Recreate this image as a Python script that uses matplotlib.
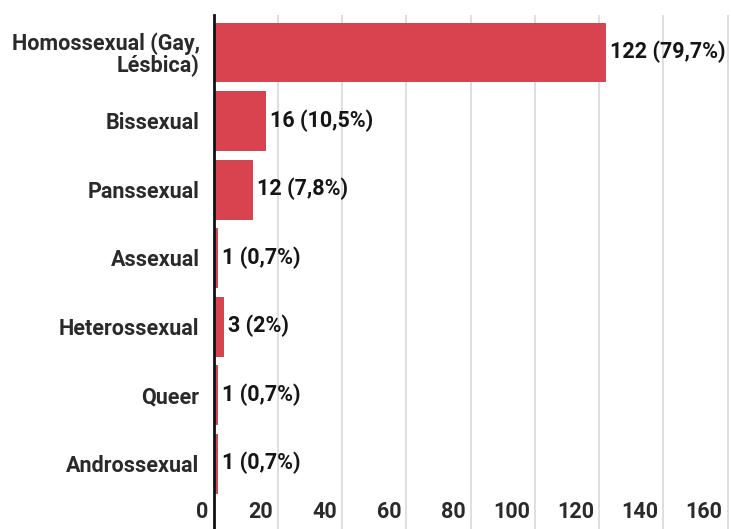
import matplotlib
matplotlib.use("Agg")
import matplotlib.pyplot as plt
import matplotlib.transforms as mtransforms

categories = ["Homossexual (Gay,\nLésbica)", "Bissexual", "Panssexual", "Assexual",
              "Heterossexual", "Queer", "Androssexual"]
values = [122, 16, 12, 1, 3, 1, 1]
value_labels = ["122 (79,7%)", "16 (10,5%)", "12 (7,8%)", "1 (0,7%)", "3 (2%)", "1 (0,7%)", "1 (0,7%)"]
xticks = [0, 20, 40, 60, 80, 100, 120, 140, 160]

plt.rcParams['font.family'] = ['Roboto', 'DejaVu Sans']

W, H = 731, 529
fig = plt.figure(figsize=(W / 100, H / 100), dpi=100)
ax_left = 213.5 / W
ax_top = 1 - 15 / H
ax = fig.add_axes([ax_left, 0, 1 - ax_left, ax_top])

bar_color = "#d9434f"
y = list(range(len(categories)))
ax.barh(y, values, height=0.86, color=bar_color, edgecolor="#c03a45", linewidth=0.6, zorder=3)

xmax = (W - 213.5) / (514 / 160)
ax.set_xlim(0, xmax)
ax.set_ylim(6.96, -0.54)

fs = 15.5
ax.set_xticks(xticks)
ax.set_xticklabels([str(t) for t in xticks], fontsize=fs, fontweight='bold', color="#2a2a2a")
ax.tick_params(axis='x', length=0, pad=-20)
offset = mtransforms.ScaledTranslation(-5 / 100, 0, fig.dpi_scale_trans)
for lbl in ax.get_xticklabels():
    lbl.set_horizontalalignment('right')
    lbl.set_transform(lbl.get_transform() + offset)

ax.set_yticks(y)
ax.set_yticklabels(categories, fontsize=fs, fontweight='bold', color="#2a2a2a",
                   linespacing=1.0)
ax.tick_params(axis='y', length=0, pad=10)

ax.grid(axis='x', color="#dcdcdc", linewidth=1.3, zorder=0)
for s in ["top", "right", "bottom"]:
    ax.spines[s].set_visible(False)
ax.spines["left"].set_color("#111111")
ax.spines["left"].set_linewidth(2)
ax.spines["left"].set_zorder(4)

for yi, v, lab in zip(y, values, value_labels):
    ax.annotate(lab, (v, yi), xytext=(3.5, 0), textcoords="offset points",
                va="center", ha="left", fontsize=fs, fontweight='bold', color="#151515")

fig.savefig("out.png", dpi=100)
